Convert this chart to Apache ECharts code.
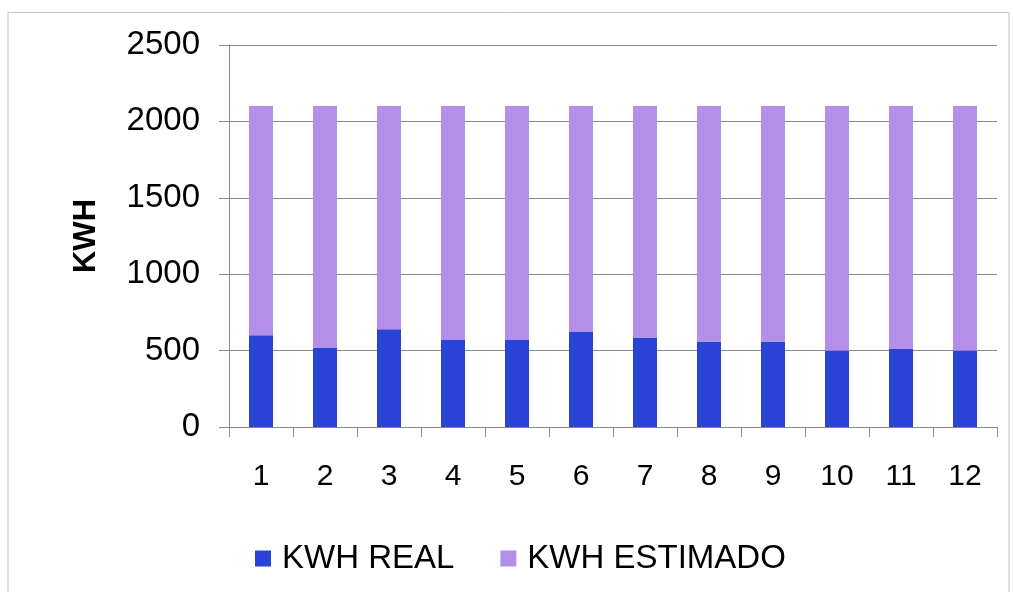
<!DOCTYPE html>
<html>
<head>
<meta charset="utf-8">
<style>
  html, body { margin: 0; padding: 0; background: #ffffff; }
  #chart { width: 1013px; height: 592px; }
</style>
<script src="https://cdn.jsdelivr.net/npm/echarts@6/dist/echarts.min.js"></script>
</head>
<body>
<div id="chart"></div>
<script>
// Monthly energy: measured kWh and the estimate stacked on top of it
const months = ['1', '2', '3', '4', '5', '6', '7', '8', '9', '10', '11', '12'];
const kwhReal = [600, 520, 640, 570, 570, 625, 585, 560, 560, 500, 510, 500];
const kwhEstimado = [1500, 1580, 1460, 1530, 1530, 1475, 1515, 1540, 1540, 1600, 1590, 1600];
const yTicks = { min: 0, max: 2500, step: 500 };

const FONT = "'Liberation Sans', Arial, sans-serif";
const AXIS_GREY = '#8e8a8c';

const chart = echarts.init(document.getElementById('chart'), null, { renderer: 'canvas' });

chart.setOption({
  animation: false,
  backgroundColor: '#ffffff',
  textStyle: { fontFamily: FONT, color: '#000' },
  graphic: [{
    type: 'rect',
    shape: { x: 8, y: 12.5, width: 1001, height: 600 },
    style: { fill: 'none', stroke: '#cdbdc1', lineWidth: 1 },
    silent: true,
    z: -1
  }],
  grid: { left: 229, right: 16, top: 45, bottom: 165, containLabel: false },
  legend: {
    left: 250,
    top: 537,
    itemWidth: 16,
    itemHeight: 16,
    itemGap: 46,
    icon: 'rect',
    textStyle: { fontFamily: FONT, fontSize: 33, color: '#000', padding: [0, 0, 0, 6] },
    data: ['KWH REAL', 'KWH ESTIMADO']
  },
  xAxis: {
    type: 'category',
    data: months,
    boundaryGap: true,
    axisLine: { show: true, lineStyle: { color: AXIS_GREY, width: 1 } },
    axisTick: { show: true, length: 10, inside: false, alignWithLabel: false, lineStyle: { color: AXIS_GREY } },
    axisLabel: { fontFamily: FONT, fontSize: 30, color: '#000', margin: 35 },
    splitLine: { show: false }
  },
  yAxis: {
    type: 'value',
    min: yTicks.min,
    max: yTicks.max,
    interval: yTicks.step,
    name: 'KWH',
    nameLocation: 'middle',
    nameGap: 127,
    nameRotate: 90,
    nameTextStyle: { fontFamily: FONT, fontSize: 31, fontWeight: 'bold', color: '#000' },
    axisLine: { show: true, lineStyle: { color: AXIS_GREY, width: 1 } },
    axisTick: { show: true, length: 10, inside: false, lineStyle: { color: AXIS_GREY } },
    axisLabel: {
      fontFamily: FONT, fontSize: 33, color: '#000', margin: 29,
      formatter: function (v) { return String(v); }
    },
    splitLine: { show: true, lineStyle: { color: AXIS_GREY, width: 1 } }
  },
  series: [
    {
      name: 'KWH REAL',
      type: 'bar',
      stack: 'kwh',
      barWidth: 24,
      itemStyle: { color: '#2843d6' },
      data: kwhReal
    },
    {
      name: 'KWH ESTIMADO',
      type: 'bar',
      stack: 'kwh',
      barWidth: 24,
      itemStyle: { color: '#b48fea' },
      data: kwhEstimado
    }
  ]
});
</script>
</body>
</html>
